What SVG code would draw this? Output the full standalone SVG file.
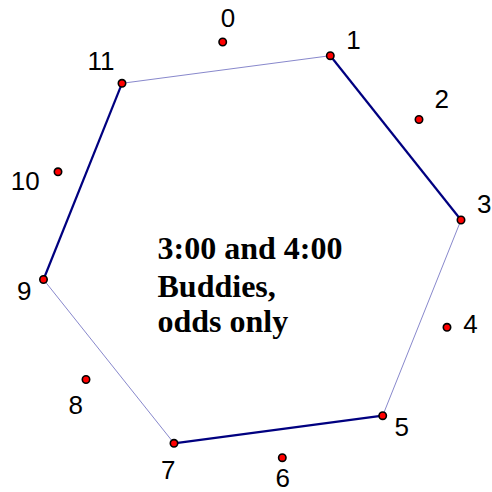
<svg xmlns="http://www.w3.org/2000/svg" width="492" height="492" viewBox="0 0 492 492">
<style>
.thick{stroke:#000080;stroke-width:2.2;fill:none}
.thin{stroke:#8888cc;stroke-width:1;fill:none}
.dot{fill:#ff0000;stroke:#000;stroke-width:1.6}
.lbl{font-family:"Liberation Sans",Arial,sans-serif;font-size:26px;fill:#000;text-anchor:middle}
.title{font-family:"Liberation Serif","Times New Roman",serif;font-size:32px;font-weight:bold;fill:#000}
</style>
<rect width="492" height="492" fill="#fff"/>
<g id="connectors">
<line class="thick" x1="330.3" y1="55.7" x2="461" y2="220"/>
<line class="thin" x1="461" y1="220" x2="382.7" y2="415.7"/>
<line class="thick" x1="382.7" y1="415.7" x2="174" y2="443.3"/>
<line class="thin" x1="174" y1="443.3" x2="43.5" y2="279.5"/>
<line class="thick" x1="43.5" y1="279.5" x2="122" y2="83.3"/>
<line class="thin" x1="122" y1="83.3" x2="330.3" y2="55.7"/>
</g>
<g id="n0"><circle class="dot" cx="222.7" cy="42" r="3.7"/><text class="lbl" x="228" y="26.5">0</text></g>
<g id="n1"><circle class="dot" cx="330.3" cy="55.7" r="3.7"/><text class="lbl" x="353.5" y="49">1</text></g>
<g id="n2"><circle class="dot" cx="419" cy="119.5" r="3.7"/><text class="lbl" x="441.7" y="108.3">2</text></g>
<g id="n3"><circle class="dot" cx="461" cy="220" r="3.7"/><text class="lbl" x="484.2" y="213">3</text></g>
<g id="n4"><circle class="dot" cx="447" cy="327.3" r="3.7"/><text class="lbl" x="470.5" y="333">4</text></g>
<g id="n5"><circle class="dot" cx="382.7" cy="415.7" r="3.7"/><text class="lbl" x="401.7" y="436">5</text></g>
<g id="n6"><circle class="dot" cx="282.3" cy="457.7" r="3.7"/><text class="lbl" x="282.7" y="487">6</text></g>
<g id="n7"><circle class="dot" cx="174" cy="443.3" r="3.7"/><text class="lbl" x="168.3" y="479">7</text></g>
<g id="n8"><circle class="dot" cx="86" cy="379.5" r="3.7"/><text class="lbl" x="75.8" y="413.5">8</text></g>
<g id="n9"><circle class="dot" cx="43.5" cy="279.5" r="3.7"/><text class="lbl" x="24.2" y="300">9</text></g>
<g id="n10"><circle class="dot" cx="58" cy="171.8" r="3.7"/><text class="lbl" x="25.3" y="190">10</text></g>
<g id="n11"><circle class="dot" cx="122" cy="83.3" r="3.7"/><text class="lbl" x="101" y="69.5">11</text></g>
<g id="title">
<text class="title" x="157.5" y="259.3">3:00 and 4:00</text>
<text class="title" x="157.5" y="296.7">Buddies,</text>
<text class="title" x="157.5" y="332">odds only</text>
</g>
</svg>
